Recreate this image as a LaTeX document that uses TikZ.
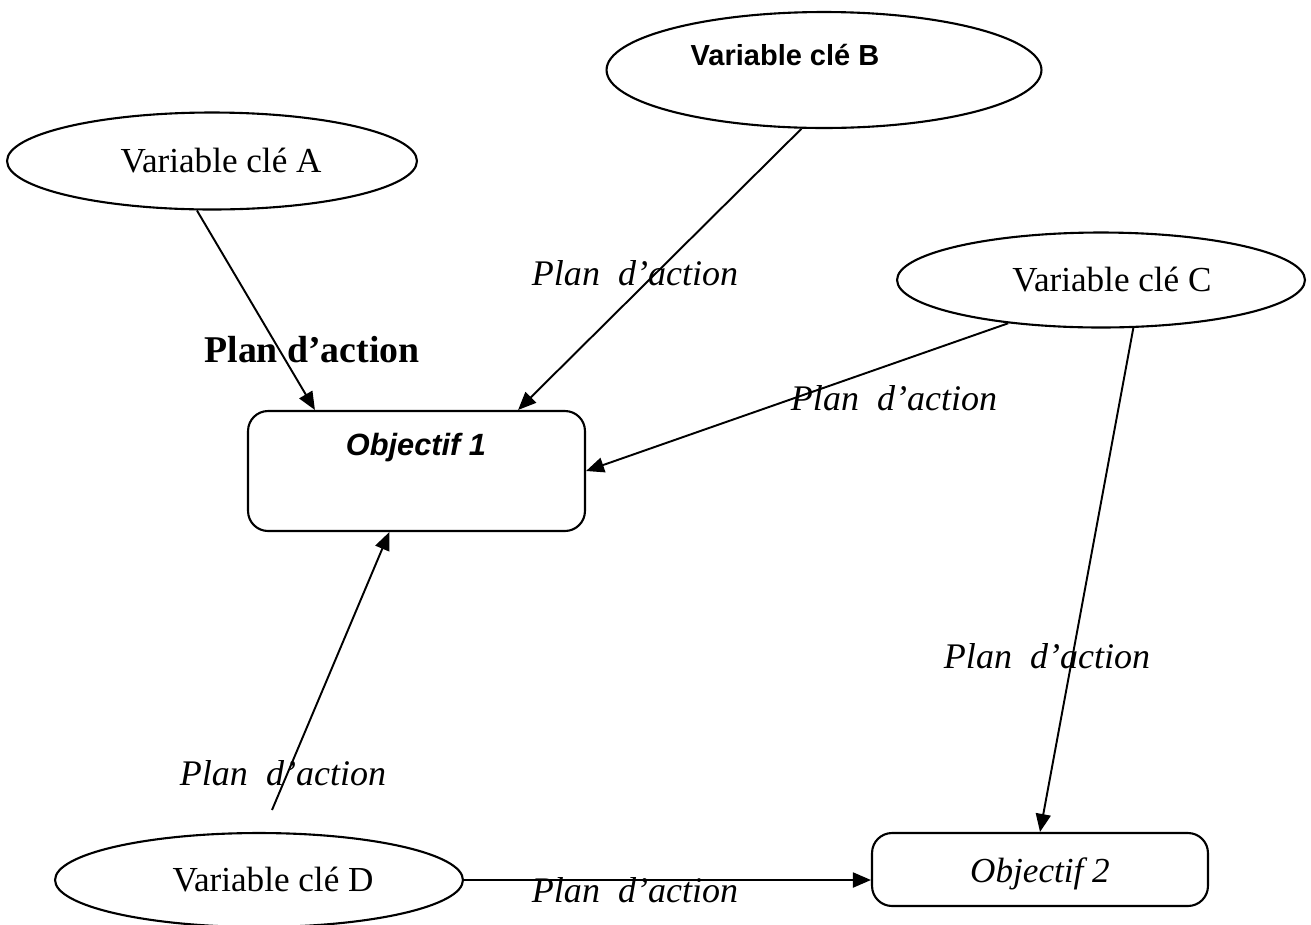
\documentclass[tikz,border=0pt]{standalone}
\usepackage{fontspec}
\setmainfont{Liberation Serif}
\setsansfont{Liberation Sans}
\usetikzlibrary{shapes.geometric,arrows.meta}

\begin{document}
\begin{tikzpicture}[x=0.02cm,y=-0.02cm]
                \tikzstyle{every node}=[inner sep=0pt]
                \tikzstyle{var}=[draw, ellipse, line width=1.2pt, font=\fontsize{20}{24}\selectfont]
                \tikzstyle{obj}=[draw, rectangle, rounded corners=0.4cm, line width=1.2pt]
                \tikzstyle{plan}=[anchor=base, font=\fontsize{20.5}{24}\selectfont\itshape]
                \tikzstyle{fl}=[-{Triangle[length=0.36cm,width=0.3cm]}, line width=1.1pt]
                \useasboundingbox (0,0) rectangle (1311,924);
                % variables cles
                \node[var, minimum width=8.2cm, minimum height=1.94cm]  (varA)  at (212,161)   { \hspace*{0.36cm}Variable clé A };
                \node[var, minimum width=8.7cm, minimum height=2.32cm]  (varB)  at (824,70)    {};
                \node[anchor=base, font=\fontsize{16.5}{20}\sffamily\bfseries] (labB) at (785,65) { Variable clé B };
                \node[var, minimum width=8.16cm, minimum height=1.9cm]  (varC)  at (1101,280)  { \hspace*{0.44cm}Variable clé C };
                \node[var, minimum width=8.16cm, minimum height=1.88cm] (varD)  at (259,880)   { \hspace*{0.56cm}Variable clé D };
                % objectifs
                \node[obj, minimum width=6.74cm, minimum height=2.4cm]  (obj1)  at (416.5,471) {};
                \node[anchor=base, font=\fontsize{17.5}{20}\sffamily\bfseries\itshape] (labO1) at (416,455) { Objectif 1 };
                \node[obj, minimum width=6.72cm, minimum height=1.46cm] (obj2) at (1040,869.5) {};
                \node[anchor=base, font=\fontsize{20}{24}\selectfont\itshape] (labO2) at (1040,882) { Objectif 2 };
                \coordinate (dfree) at (272,810);
                % fleches
                \draw[fl] (varA.-107)   -- (obj1.149);
                \draw[fl] (varB.-111)   -- (obj1.31);
                \draw[fl] (varC.-155)   -- (obj1.east);
                \draw[fl] (varC.-56)    -- (obj2.north);
                \draw[fl] (dfree)       -- (obj1.-114);
                \draw[fl] (varD.east)   -- (varD.east -| obj2.west);
                % plans d'action
                \node[anchor=base, font=\fontsize{21.5}{24}\selectfont\bfseries] (planA) at (312,362) { Plan d’action };
                \node[plan] (planB)  at (635,285)  { Plan\ \ d’action };
                \node[plan] (planC1) at (894,410)  { Plan\ \ d’action };
                \node[plan] (planC2) at (1047,668) { Plan\ \ d’action };
                \node[plan] (planD1) at (283,785)  { Plan\ \ d’action };
                \node[plan] (planD2) at (635,902)  { Plan\ \ d’action };
            \end{tikzpicture}
\end{document}
